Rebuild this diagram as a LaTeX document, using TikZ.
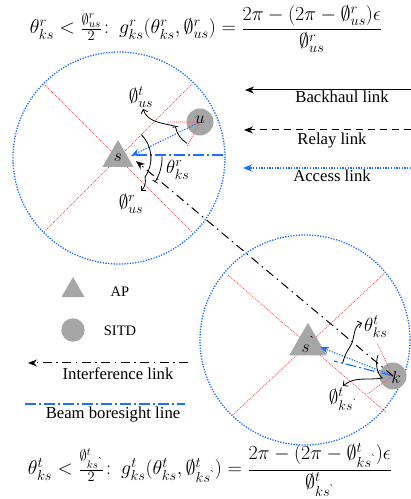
\RequirePackage{fix-cm}
\documentclass[tikz,border=0pt]{standalone}
\usepackage{amsmath,amssymb}
\usepackage{fontspec}
\setmainfont{Liberation Serif}
\usetikzlibrary{arrows.meta,calc,shapes.geometric}
\definecolor{bl}{RGB}{30,110,255}
\definecolor{rd}{RGB}{255,85,85}
\definecolor{gr}{RGB}{166,166,166}
\DeclareMathSizes{20}{20}{14.5}{11}
\DeclareMathSizes{19}{19}{14}{10.5}
\DeclareMathSizes{17.5}{17.5}{13}{10}
\newcommand{\gv}{\text{\textasciigrave}}
\begin{document}
\begin{tikzpicture}[x=1pt,y=1pt,
 zone/.style={bl, line width=1.3pt, dash pattern=on 1.3pt off 1.4pt},
 sector/.style={rd, line width=0.8pt, dash pattern=on 1pt off 1pt},
 accessln/.style={bl, line width=1.1pt, dash pattern=on 1.3pt off 1.4pt, -{Stealth[length=9pt,width=7pt]}},
 boreln/.style={bl, line width=1.1pt, dash pattern=on 11pt off 3pt on 2pt off 3pt},
 interfln/.style={black, line width=1pt, dash pattern=on 9pt off 4.5pt on 1.5pt off 4.5pt, -{Stealth[length=9pt,width=7pt]}},
 backln/.style={black, line width=1pt, -{Stealth[length=9pt,width=7pt]}},
 relayln/.style={black, line width=1pt, dash pattern=on 7pt off 5pt, -{Stealth[length=9pt,width=7pt]}},
 ang/.style={black, line width=0.8pt},
 angarrow/.style={ang, -{Straight Barb[length=3.5pt,width=7pt]}},
 ap/.style={regular polygon, regular polygon sides=3, fill=gr, inner sep=0pt},
 sitd/.style={circle, fill=gr, inner sep=0pt},
 lgd/.style={font=\fontsize{16.7}{19}\selectfont},
 lgds/.style={font=\fontsize{14.5}{17}\selectfont},
 lbl/.style={font=\fontsize{19}{22}\selectfont, inner sep=0pt},
 lbls/.style={font=\fontsize{17.5}{20}\selectfont, inner sep=0pt},
 frm/.style={font=\fontsize{20}{23}\selectfont, inner sep=0pt}]
\useasboundingbox (0,0) rectangle (411,499);

% formulas
\node[frm] (f1) at (206,470) {$\theta^r_{ks}<\frac{\emptyset^r_{us}}{2}\colon\, g^r_{ks}(\theta^r_{ks},\emptyset^r_{us})=\dfrac{2\pi-(2\pi-\emptyset^r_{us})\epsilon}{\emptyset^r_{us}}$};
\node[frm] (f2) at (210,29) {$\theta^t_{ks}<\frac{\emptyset^t_{ks^{\gv}}}{2}\colon\, g^t_{ks}(\theta^t_{ks},\emptyset^t_{ks^{\gv}})=\dfrac{2\pi-(2\pi-\emptyset^t_{ks^{\gv}})\epsilon}{\emptyset^t_{ks^{\gv}}}$};

% coverage zones
\coordinate (c1) at (119,341);
\coordinate (c2) at (305,159);
\draw[zone] (c1) circle[radius=106];
\draw[zone] (c2) circle[radius=105];

% sector lines of the APs
\coordinate (s1) at (118,341);
\coordinate (s2) at (308,154.4);
\draw[sector] ($(s1)+(45:105)$) -- ($(s1)+(225:105)$);
\draw[sector] ($(s1)+(135:105)$) -- ($(s1)+(315:105)$);
\draw[sector] ($(s2)+(43:106)$) -- ($(s2)+(223:104)$);
\draw[sector] ($(s2)+(139:106)$) -- ($(s2)+(319:104)$);

% APs and SITDs
\node[ap, minimum size=36pt] (S) at (s1) {\fontsize{17.5}{20}\selectfont$s$};
\node[ap, minimum size=33.5pt] (S2) at (s2) {\fontsize{17.5}{20}\selectfont$s^{\gv}$};
\node[sitd, minimum size=27pt] (U) at (200,377) {};
\node[sitd, minimum size=27pt] (K) at (393,123) {};

% SITD beam sectors
\draw[sector] ($(U.center)+(180:32)$) -- (U.center) -- ($(U.center)+(242:28)$);
\draw[sector] ($(K.center)+(116:36)$) -- (K.center) -- ($(K.center)+(215:32)$);

% links
\coordinate (acc1) at (131,343);
\coordinate (bo1a) at (136,344);
\coordinate (bo1b) at (225,344);
\coordinate (itip) at (136,338);
\coordinate (acc2) at (320,152);
\coordinate (bo2) at (334,138);
\draw[boreln] (bo1a) -- (bo1b);
\draw[boreln] (K.center) -- (bo2);
\draw[accessln] (U.center) -- (acc1);
\draw[accessln] (K.center) -- (acc2);
\draw[interfln] (K.center) -- (itip);

\node[lbls] (ul) at (200,379) {$u$};
\node[lbls] (kl) at (396,122) {$k$};

% angles at s
\draw[ang] ($(s1)+(45:33)$) arc[start angle=45, end angle=-35, radius=33];
\draw[angarrow] ($(s1)+(-35:33)$) to[out=-80,in=45] (141,308);
\node[lbl] (phr) at (131,295) {$\emptyset^r_{us}$};
\draw[ang, -{Bar[width=6pt]}] ($(s1)+(2:44)$) arc[start angle=2, end angle=-33, radius=44];
\node[lbl, anchor=west] (thr) at (166,329) {$\theta^r_{ks}$};

% angle at u
\draw[ang, {Bar[width=6pt]}-] ($(U.center)+(190:25)$) arc[start angle=190, end angle=238, radius=25];
\draw[angarrow] ($(U.center)+(190:25)$) to[out=165,in=-70] (143,390);
\node[lbl] (pht) at (141,402) {$\emptyset^t_{us}$};

% angles at k
\draw[angarrow] ($(K.center)+(166:52)$) arc[start angle=166, end angle=146, radius=52] to[out=56,in=200] (362,176);
\node[lbl, anchor=west] (tht) at (364,172) {$\theta^t_{ks}$};
\draw[angarrow] (378,144) .. controls (375,135) and (377,126) .. (382,121) to[out=190,in=40] (343,113);
\node[lbl] (phk) at (343,100) {$\emptyset^t_{ks^{\gv}}$};

% legend
\coordinate (bhR) at (411,409); \coordinate (bhL) at (245,409);
\draw[backln] (bhR) -- (bhL);
\node[lgd, anchor=base] (bhT) at (342,396) {Backhaul link};
\coordinate (rlR) at (411,369); \coordinate (rlL) at (244,369);
\draw[relayln] (rlR) -- (rlL);
\node[lgd, anchor=base] (rlT) at (332,354) {Relay link};
\coordinate (acR) at (411,331); \coordinate (acL) at (243,331);
\draw[accessln] (acR) -- (acL);
\node[lgd, anchor=base] (acT) at (332,317) {Access link};

\node[ap, minimum size=26.6pt] (APs) at (73,208.6) {};
\node[lgds, anchor=base] (APt) at (120,202) {AP};
\node[sitd, minimum size=23.4pt] (SDs) at (73,169) {};
\node[lgds, anchor=base] (SDt) at (120,163) {SITD};

\coordinate (inR) at (188,136); \coordinate (inL) at (28,136);
\draw[interfln] (inR) -- (inL);
\node[lgd, anchor=base] (inT) at (118,119) {Interference link};
\coordinate (bmL) at (25,95); \coordinate (bmR) at (185,95);
\draw[boreln] (bmL) -- (bmR);
\node[lgd, anchor=base] (bmT) at (113,80) {Beam boresight line};
\end{tikzpicture}
\end{document}
